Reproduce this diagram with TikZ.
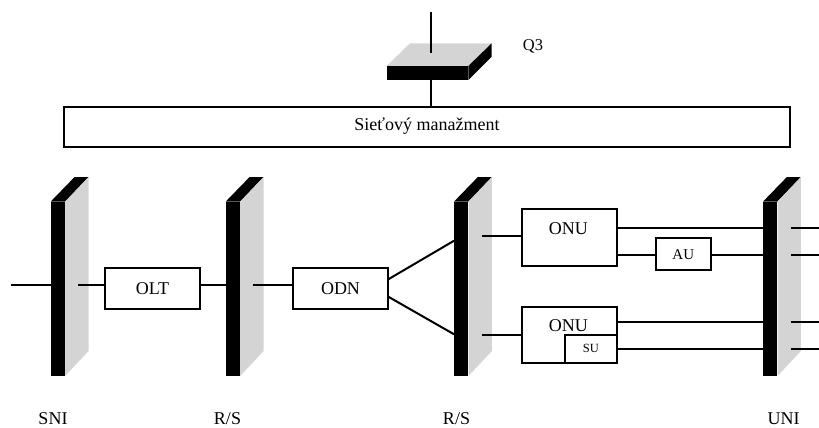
\documentclass[tikz,border=0pt]{standalone}
\usepackage{fontspec}
\setmainfont{Liberation Serif}
\definecolor{facegray}{RGB}{212,212,212}
\tikzset{
  wire/.style={line width=2pt},
  box/.style={draw, line width=2.2pt, fill=white, inner sep=0pt},
  panelfront/.style={fill=black, draw=none, minimum width=14pt, minimum height=174pt, inner sep=0pt},
  lbl/.style={font=\fontsize{18}{20}\selectfont, inner sep=0pt},
}
% a panel: black front (node #1), black top face and grey side face
\newcommand{\plate}[1]{%
  \fill[black] (#1.north west) -- (#1.north east) -- ++(23.3,-24.4) -- ++(-14,0) -- cycle;
  \fill[facegray] (#1.north east) -- ++(23.3,-24.4) -- ++(0,174) -- (#1.south east) -- cycle;
}
\begin{document}
\begin{tikzpicture}[x=1pt,y=-1pt]
\useasboundingbox (0,0) rectangle (819,428);

% ---- management part ----
\node[box, minimum width=726pt, minimum height=40pt] (nm) at (427,127) {};
\node[lbl] (nmtext) at (427,126) {Sieťový manažment};
\coordinate (qtop) at (431,12);
\coordinate (qface) at (431,52.7);
% Q3 interface block
\fill[facegray] (386.7,66) -- (468.3,66) -- (491.7,43.3) -- (410,43.3) -- cycle;
\fill[black] (386.7,66) rectangle (468.3,80);
\fill[black] (468.3,66) -- (491.7,43.3) -- (491.7,56.7) -- (468.3,80) -- cycle;
\coordinate (qbot) at (431,80);
\draw[wire] (qtop) -- (qface);
\draw[wire] (qbot) -- (nm.north -| qbot);
\node[font=\fontsize{16.5}{18}\selectfont, inner sep=0pt] (q3) at (533,46) {Q3};

% ---- reference panels ----
\node[panelfront] (p1) at (58,288.7) {};
\node[panelfront] (p2) at (233,288.7) {};
\node[panelfront] (p3) at (461.3,288.7) {};
\node[panelfront] (p4) at (770.3,288.7) {};
\plate{p1}\plate{p2}\plate{p3}\plate{p4}

% ---- functional blocks ----
\node[box, minimum width=95pt, minimum height=41.3pt] (olt) at (152.5,288.3) {};
\node[lbl] at (olt) {OLT};
\node[box, minimum width=95.6pt, minimum height=41.3pt] (odn) at (340.5,288.3) {};
\node[lbl] at (odn) {ODN};
\node[box, minimum width=95pt, minimum height=56.4pt] (onua) at (569.2,237.5) {};
\node[lbl] (onuatext) at (568.3,229) {ONU};
\node[box, minimum width=95pt, minimum height=56pt] (onub) at (569.2,334.7) {};
\node[lbl] (onubtext) at (568.3,326) {ONU};
\node[box, minimum width=51.7pt, minimum height=27.7pt] (su) at (590.8,348.8) {};
\node[font=\fontsize{12.5}{14}\selectfont, inner sep=0pt] at (su) {SU};
\node[box, minimum width=54.7pt, minimum height=31.7pt] (au) at (683.3,254.2) {};
\node[font=\fontsize{15}{17}\selectfont, inner sep=0pt] at (au) {AU};

% ---- wiring ----
\coordinate (main) at (0,285.3);
\coordinate (in) at (11,285.3);
\coordinate (g1) at (78.3,285.3);
\coordinate (g2) at (253.3,285.3);
\draw[wire] (in) -- (p1.west |- main);
\draw[wire] (g1) -- (olt.west |- main);
\draw[wire] (olt.east |- main) -- (p2.west |- main);
\draw[wire] (g2) -- (odn.west |- main);
\coordinate (spa) at (388.3,279.3);
\coordinate (spb) at (388.3,296.7);
\draw[wire] (spa) -- (p3.west |- 0,240.7);
\draw[wire] (spb) -- (p3.west |- 0,334.3);

\coordinate (ra) at (0,235.7);
\coordinate (rb) at (0,335);
\coordinate (g3a) at (481.7,235.7);
\coordinate (g3b) at (481.7,335);
\draw[wire] (g3a) -- (onua.west |- ra);
\draw[wire] (g3b) -- (onub.west |- rb);

\coordinate (u1) at (0,227.7);
\coordinate (u2) at (0,255);
\coordinate (u3) at (0,321.7);
\coordinate (u4) at (0,349);
\draw[wire] (onua.east |- u1) -- (p4.west |- u1);
\draw[wire] (onua.east |- u2) -- (au.west |- u2);
\draw[wire] (au.east |- u2) -- (p4.west |- u2);
\draw[wire] (onub.east |- u3) -- (p4.west |- u3);
\draw[wire] (su.east |- u4) -- (p4.west |- u4);
\foreach \r in {u1,u2,u3,u4}{
  \coordinate (o\r) at (790.7,0);
  \coordinate (e\r) at (819,0);
  \draw[wire] (o\r |- \r) -- (e\r |- \r);
}

% ---- interface labels ----
\node[lbl] (sni) at (53,418.5) {SNI};
\node[lbl] (rs1) at (227.5,418.5) {R/S};
\node[lbl] (rs2) at (456.5,418.5) {R/S};
\node[lbl] (uni) at (783.5,418.5) {UNI};
\end{tikzpicture}
\end{document}
